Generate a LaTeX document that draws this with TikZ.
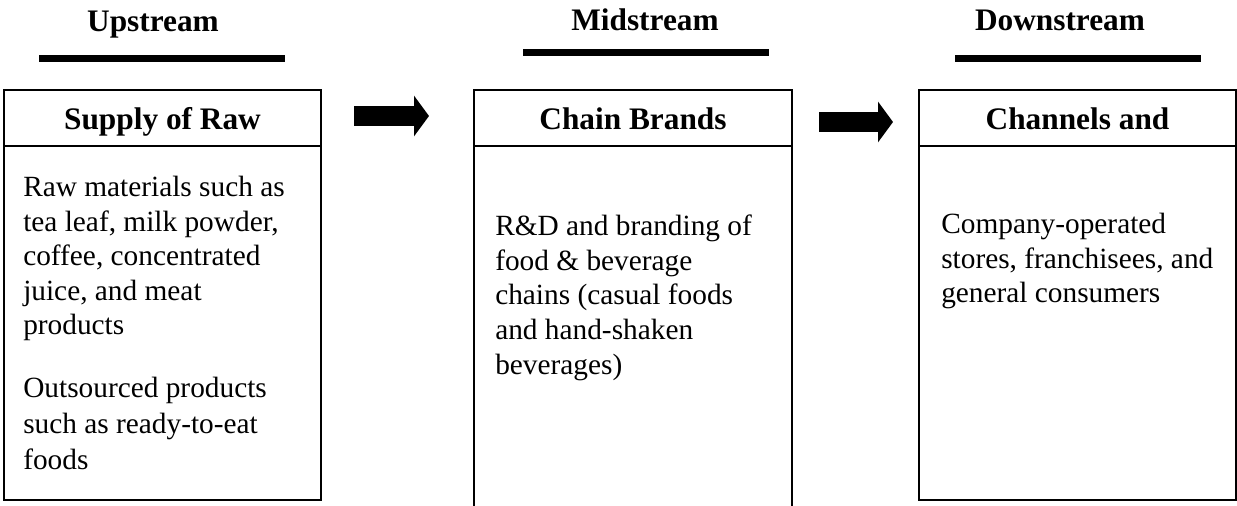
\documentclass[tikz,border=0pt]{standalone}
\usepackage{fontspec}
\setmainfont{Liberation Serif}
\usetikzlibrary{arrows.meta,positioning}

\begin{document}
\begin{tikzpicture}[
  x=0.75pt, y=-0.75pt,
  stagetitle/.style={font=\fontsize{23.5}{28}\selectfont\bfseries, anchor=base, inner sep=0pt},
  boxhead/.style={font=\fontsize{23.5}{28}\selectfont\bfseries, anchor=base, inner sep=0pt},
  boxtext/.style={font=\fontsize{22}{25.9}\selectfont, align=left, anchor=north west, inner sep=0pt},
  bar/.style={line width=5.25pt},
  boxline/.style={line width=1.2pt},
  blockarr/.style={line width=15pt, -{Triangle[length=11.25pt, width=30pt]}}
]
\useasboundingbox (0,0) rectangle (1237,506);

% stage titles
\node[stagetitle] (up) at (153,32) {Upstream};
\node[stagetitle] (mid) at (645,31) {Midstream};
\node[stagetitle] (down) at (1060,31) {Downstream};
\draw[bar] (39,58.5) -- (285,58.5);
\draw[bar] (523,53) -- (769,53);
\draw[bar] (955,58.5) -- (1201,58.5);

% frames
\draw[boxline] (4,90) rectangle (321,146);
\draw[boxline] (4,146) rectangle (321,500);
\draw[boxline] (474,90) rectangle (792,146);
\draw[boxline] (474,146) -- (474,510);
\draw[boxline] (792,146) -- (792,510);
\draw[boxline] (919,90) rectangle (1236,146);
\draw[boxline] (919,146) rectangle (1236,500);

% box headers
\node[boxhead] (rawhead) at (162.5,130) {Supply of Raw};
\node[boxhead] (chainhead) at (633,130) {Chain Brands};
\node[boxhead] (chanhead) at (1077.5,130) {Channels and};

% box texts
\node[boxtext] (rawtext) at (23,176) {Raw materials such as\\tea leaf, milk powder,\\coffee, concentrated\\juice, and meat\\products};
\node[boxtext, font=\fontsize{22}{27}\selectfont] (outtext) at (23,377) {Outsourced products\\such as ready-to-eat\\foods};
\node[boxtext] (chaintext) at (495,215) {R\&D and branding of\\food \& beverage\\chains (casual foods\\and hand-shaken\\beverages)};
\node[boxtext] (chantext) at (941,213) {Company-operated\\stores, franchisees, and\\general consumers};

% block arrows
\coordinate (a1s) at (354,116);
\coordinate (a1e) at (429,116);
\coordinate (a2s) at (819,122);
\coordinate (a2e) at (893,122);
\draw[blockarr] (a1s) -- (a1e);
\draw[blockarr] (a2s) -- (a2e);

\end{tikzpicture}
\end{document}
